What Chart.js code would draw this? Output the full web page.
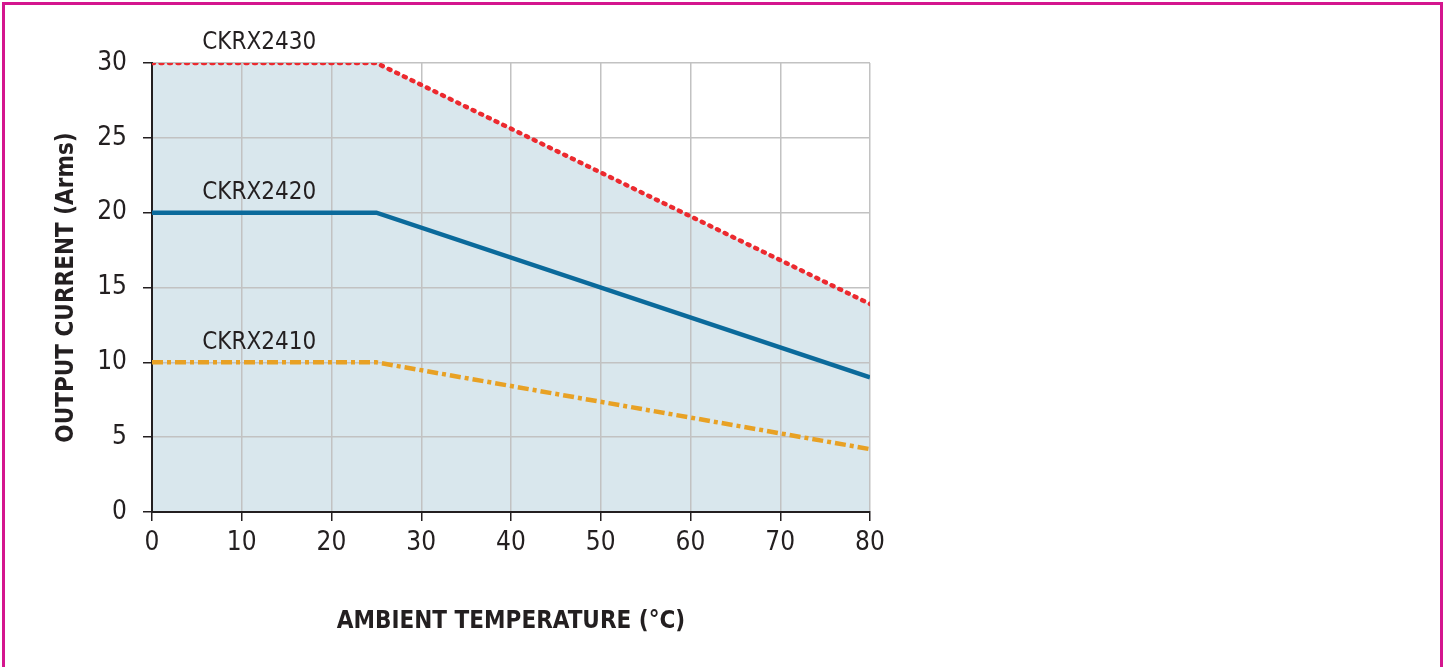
<!DOCTYPE html>
<html>
<head>
<meta charset="utf-8">
<script src="https://cdn.jsdelivr.net/npm/chart.js@4/dist/chart.umd.min.js"></script>
<style>
  html, body { margin: 0; padding: 0; background: #fff; }
  #wrap { position: relative; width: 1445px; height: 667px; overflow: hidden; }
  #frame {
    position: absolute; left: 2px; top: 2px; width: 1435px; height: 700px;
    border: 3px solid #d4168e; border-bottom: none; pointer-events: none;
  }
  canvas { position: absolute; left: 0; top: 0; }
</style>
</head>
<body>
<div id="wrap">
  <canvas id="chart" width="1445" height="667"></canvas>
  <div id="frame"></div>
</div>
<script>
// Derating curves
const temps = [0, 25, 80];
const ckrx2430 = [30, 30, 13.9];
const ckrx2420 = [20, 20, 9.0];
const ckrx2410 = [10, 10, 4.2];
const seriesNames = ['CKRX2430', 'CKRX2420', 'CKRX2410'];

const narrow = "'Liberation Sans Narrow', 'DejaVu Sans Condensed', 'Roboto Condensed', sans-serif";

function toPoints(values) {
    return temps.map((t, i) => ({x: t, y: values[i]}));
}

// Draws each curve's name just above its flat start
const seriesLabels = {
    id: 'seriesLabels',
    afterDatasetsDraw(chart) {
        const ctx = chart.ctx;
        const xs = chart.scales.x;
        const ys = chart.scales.y;
        ctx.save();
        ctx.font = '24px ' + narrow;
        ctx.fillStyle = '#231f20';
        ctx.textBaseline = 'bottom';
        ctx.textAlign = 'left';
        chart.data.datasets.forEach((ds) => {
            const px = xs.getPixelForValue(5.6);
            const py = ys.getPixelForValue(ds.data[0].y) - 8;
            ctx.fillText(ds.label, px, py);
        });
        ctx.restore();
    }
};

new Chart(document.getElementById('chart'), {
    type: 'line',
    data: {
        datasets: [
            {
                label: seriesNames[0],
                data: toPoints(ckrx2430),
                borderColor: '#ec2a2f',
                borderWidth: 4.5,
                borderDash: [2, 6.5],
                borderCapStyle: 'round',
                backgroundColor: '#d9e7ed',
                fill: 'origin',
                pointRadius: 0,
                tension: 0
            },
            {
                label: seriesNames[1],
                data: toPoints(ckrx2420),
                borderColor: '#0b6a9b',
                borderWidth: 4.5,
                fill: false,
                pointRadius: 0,
                tension: 0
            },
            {
                label: seriesNames[2],
                data: toPoints(ckrx2410),
                borderColor: '#e8a124',
                borderWidth: 4.5,
                borderDash: [11, 4, 4, 4],
                fill: false,
                pointRadius: 0,
                tension: 0
            }
        ]
    },
    options: {
        responsive: false,
        devicePixelRatio: 1,
        animation: false,
        layout: { padding: { left: 0, top: 63, right: 575, bottom: 0 } },
        plugins: {
            legend: { display: false },
            tooltip: { enabled: false },
            filler: { drawTime: 'beforeDraw' }
        },
        scales: {
            x: {
                type: 'linear',
                min: 0,
                max: 80,
                afterFit(scale) { scale.height = 155; },
                ticks: {
                    stepSize: 10,
                    padding: 7,
                    color: '#231f20',
                    font: { family: narrow, size: 26 }
                },
                grid: {
                    color: '#c2c2c2',
                    lineWidth: 1.5,
                    tickColor: '#231f20',
                    tickLength: 9
                },
                border: { color: '#231f20', width: 2 },
                title: {
                    display: true,
                    text: 'AMBIENT TEMPERATURE (°C)',
                    color: '#231f20',
                    font: { family: narrow, size: 24, weight: 'bold' },
                    padding: { top: 0, bottom: 31 }
                }
            },
            y: {
                type: 'linear',
                min: 0,
                max: 30,
                afterFit(scale) { scale.width = 152; },
                ticks: {
                    stepSize: 5,
                    padding: 16,
                    color: '#231f20',
                    font: { family: narrow, size: 26 }
                },
                grid: {
                    color: '#c2c2c2',
                    lineWidth: 1.5,
                    tickColor: '#231f20',
                    tickLength: 9
                },
                border: { color: '#231f20', width: 2 },
                title: {
                    display: true,
                    text: 'OUTPUT CURRENT (Arms)',
                    color: '#231f20',
                    font: { family: narrow, size: 24, weight: 'bold' },
                    padding: { top: 52, bottom: 0 }
                }
            }
        }
    },
    plugins: [seriesLabels]
});
</script>
</body>
</html>
